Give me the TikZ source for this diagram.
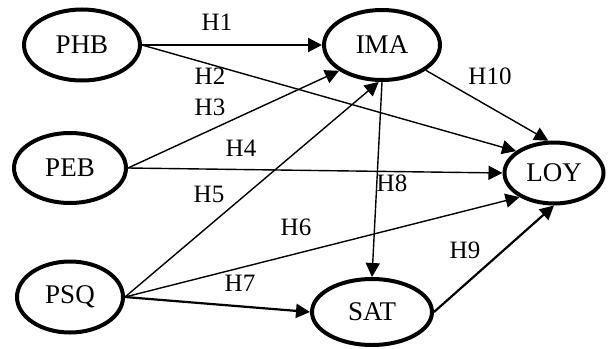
\documentclass[tikz,border=0pt]{standalone}
\usepackage{fontspec}
\setmainfont{Liberation Serif}
\usetikzlibrary{shapes.geometric,arrows.meta}
\tikzset{
  construct/.style={ellipse, draw, line width=2pt, inner sep=0pt, font=\fontsize{13.5}{15}\selectfont},
  path/.style={-{Triangle[length=7pt,width=7pt]}, line width=0.7pt},
  thickpath/.style={-{Triangle[length=7pt,width=7pt]}, line width=1.1pt},
  hyp/.style={font=\fontsize{12.5}{14}\selectfont, inner sep=0pt}
}
\begin{document}
\begin{tikzpicture}[x=0.5pt,y=-0.5pt]
\useasboundingbox (0,0) rectangle (614,348);
\node[construct, minimum width=58pt, minimum height=35.5pt] (PHB) at (82,45) {PHB};
\node[construct, minimum width=58pt, minimum height=35pt] (IMA) at (382,45) {IMA};
\node[construct, minimum width=56pt, minimum height=35pt] (PEB) at (70,168) {PEB};
\node[construct, minimum width=53pt, minimum height=35.5pt] (PSQ) at (70,297) {PSQ};
\node[construct, minimum width=60pt, minimum height=33pt] (SAT) at (372,312) {SAT};
\node[construct, minimum width=49.5pt, minimum height=30.5pt] (LOY) at (554,173) {LOY};

\draw[thickpath] (PHB.east) -- (IMA.west);
\draw[path] (PHB.east) -- (LOY.150);
\draw[path] (PEB.east) -- (IMA.211);
\draw[path] (PEB.east) -- (LOY.west);
\draw[path] (PSQ.east) -- (IMA.265);
\draw[path] (PSQ.east) -- (LOY.215);
\draw[thickpath] (PSQ.east) -- (SAT.west);
\draw[path] (IMA.south) -- (SAT.north);
\draw[thickpath] (SAT.east) -- (LOY.south);
\draw[path] (IMA.330) -- (LOY.100);

\node[hyp] (h1) at (217,22) {H1};
\node[hyp] (h2) at (210,76) {H2};
\node[hyp] (h3) at (210,107) {H3};
\node[hyp] (h4) at (241,148) {H4};
\node[hyp] (h5) at (209,194) {H5};
\node[hyp] (h6) at (296,227) {H6};
\node[hyp] (h7) at (240,283) {H7};
\node[hyp] (h8) at (392,183) {H8};
\node[hyp] (h9) at (465,250) {H9};
\node[hyp] (h10) at (490,76) {H10};
\end{tikzpicture}
\end{document}
